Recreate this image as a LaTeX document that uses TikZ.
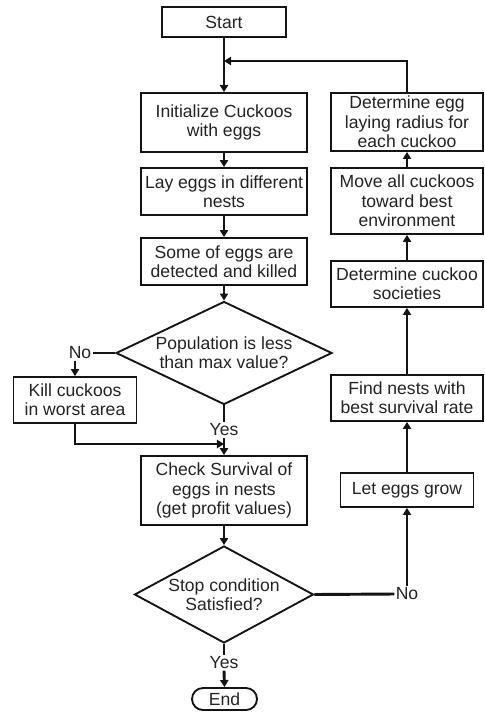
\documentclass[tikz,border=0pt]{standalone}
\usepackage{fontspec}
\setmainfont{Liberation Sans}
\usetikzlibrary{shapes.geometric,arrows.meta}

\definecolor{lineColor}{RGB}{20,20,20}
\definecolor{textColor}{RGB}{35,35,35}

\begin{document}
\begin{tikzpicture}[x=0.03cm,y=-0.03cm,
    font=\fontsize{15}{16.5}\selectfont, text=textColor,
    box/.style={draw=lineColor, line width=1.6pt, fill=white, align=center, inner sep=1pt},
    decision/.style={draw=lineColor, line width=1.6pt, diamond, inner sep=0pt},
    tag/.style={inner sep=1pt},
    flow/.style={draw=lineColor, line width=2.5pt, -{Triangle[length=6pt,width=7pt]}},
    wire/.style={draw=lineColor, line width=2.5pt}]
  \useasboundingbox (0,0) rectangle (484,712);
  % Main column
  \node[box, minimum width=3.72cm, minimum height=0.9cm] (start) at (224,22) {Start};
  \node[box, minimum width=4.98cm, minimum height=1.77cm] (init) at (224,122.5) {Initialize Cuckoos\\with eggs};
  \node[box, minimum width=4.98cm, minimum height=1.41cm] (lay) at (224,191.5) {Lay eggs in different\\nests};
  \node[box, minimum width=4.98cm, minimum height=1.41cm] (kill1) at (224,261.5) {Some of eggs are\\detected and killed};
  \node[decision, minimum width=6.48cm, minimum height=3.09cm,
    label={[align=center]center:Population is less\\than max value?}] (pop) at (224,353) {};
  \node[tag] (popNo) at (80,353) {No};
  \node[box, minimum width=3.69cm, minimum height=1.38cm] (kill2) at (75,400) {Kill cuckoos\\in worst area};
  \node[tag] (popYes) at (224,430) {Yes};
  \coordinate (merge) at (224,444);
  \node[box, minimum width=4.98cm, minimum height=2.07cm] (check) at (224,490.5) {Check Survival of\\eggs in nests\\(get profit values)};
  \node[decision, minimum width=5.37cm, minimum height=2.91cm,
    label={[align=center]center:Stop condition\\Satisfied?}] (stop) at (224,594.5) {};
  \node[tag] (stopYes) at (224,663) {Yes};
  \node[box, rounded corners=0.33cm, minimum width=1.95cm, minimum height=0.66cm] (finish) at (224.5,699) {End};
  % Right column
  \node[tag] (stopNo) at (407,594) {No};
  \node[box, minimum width=3.99cm, minimum height=1.02cm] (grow) at (407,490) {Let eggs grow};
  \node[box, minimum width=4.56cm, minimum height=1.38cm] (nests) at (407,398) {Find nests with\\best survival rate};
  \node[box, minimum width=4.56cm, minimum height=1.38cm] (society) at (407,284) {Determine cuckoo\\societies};
  \node[box, minimum width=4.56cm, minimum height=1.98cm] (move) at (407,201) {Move all cuckoos\\toward best\\environment};
  \node[box, minimum width=4.56cm, minimum height=1.74cm] (radius) at (407,122) {Determine egg\\laying radius for\\each cuckoo};
  \coordinate (loop) at (224,61);
  % Connectors
  \draw[flow] (start) -- (init);
  \draw[flow] (radius.north) |- (loop);
  \draw[flow] (init) -- (lay);
  \draw[flow] (lay) -- (kill1);
  \draw[flow] (kill1) -- (pop);
  \draw[wire] (pop.west) -- (popNo.east);
  \draw[flow] (kill2.north |- popNo.south) -- (kill2.north);
  \draw[wire] (pop.south) -- (popYes.north);
  \draw[flow] (popYes.south) -- (check.north);
  \draw[flow] (kill2.south) |- (merge);
  \draw[flow] (check) -- (stop);
  \draw[wire] (stop.south) -- (stopYes.north);
  \draw[flow] (stopYes.south) -- (finish.north);
  \draw[wire] (stop.east) -- (stopNo.west);
  \draw[flow] (stopNo.north) -- (grow.south);
  \draw[flow] (grow) -- (nests);
  \draw[flow] (nests) -- (society);
  \draw[flow] (society) -- (move);
  \draw[flow] (move) -- (radius);
\end{tikzpicture}
\end{document}
